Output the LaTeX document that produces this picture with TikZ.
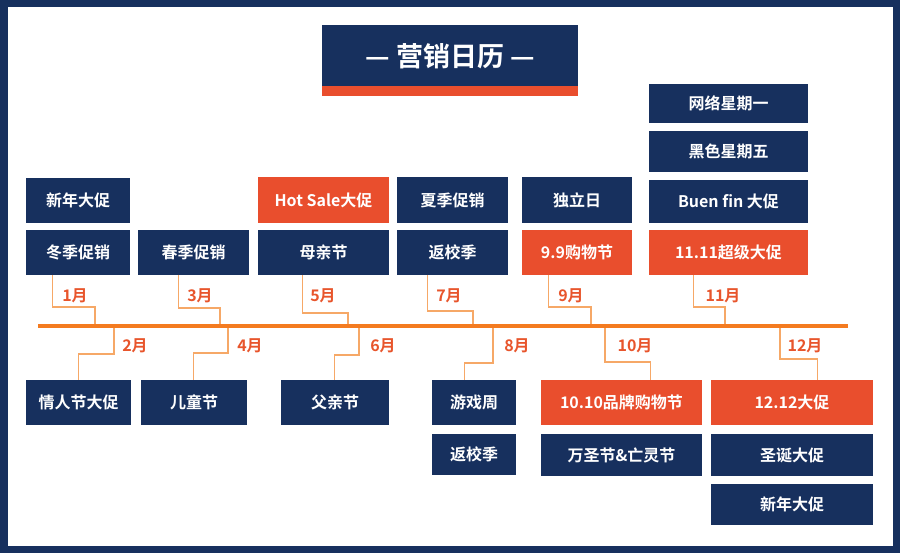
\documentclass[tikz,border=0pt]{standalone}
\usepackage{fontspec}
\setmainfont{Noto Sans CJK SC}[BoldFont={* Bold}]
\definecolor{navy}{HTML}{17305E}
\definecolor{org}{HTML}{E94E2D}
\definecolor{tl}{HTML}{F47B20}
\definecolor{cn}{HTML}{F6A867}
\definecolor{lab}{HTML}{E8552C}
\newcommand\bx[7][navy]{\node[box,fill=#1,minimum width={#5-#3},minimum height={#6-#4}] (#2) at ({(#3+#5)/2},{(#4+#6)/2}) {#7};}
\begin{document}
\begin{tikzpicture}[x=1pt,y=-1pt,
 box/.style={inner sep=0pt,text=white,font=\bfseries\fontsize{16}{18}\selectfont},
 conn/.style={cn,line width=1.3pt},
 ml/.style={text=lab,font=\bfseries\fontsize{16}{18}\selectfont,anchor=center}]
\useasboundingbox (0,0) rectangle (900,553);
\fill[white] (0,0) rectangle (900,553);
\draw[navy,line width=7pt] (4,4) rectangle (896,549);
% title
\fill[org] (322,84) rectangle (578,96);
\node[box,fill=navy,minimum width=256pt,minimum height=61pt,font=\bfseries\fontsize{27}{30}\selectfont] (title) at (450,56) {— 营销日历 —};
% timeline
\coordinate (L) at (38,326); \coordinate (R) at (848,326);
\draw[tl,line width=4pt] (L) -- (R);
% top boxes
\bx{a1}{26}{178}{130}{223}{新年大促}
\bx{a2}{26}{230}{130}{275}{冬季促销}
\bx{b1}{138}{230}{249}{275}{春季促销}
\bx[org]{c1}{258}{177}{389}{223}{Hot Sale大促}
\bx{c2}{258}{230}{389}{275}{母亲节}
\bx{d1}{397}{177}{508}{223}{夏季促销}
\bx{d2}{397}{230}{508}{275}{返校季}
\bx{e1}{522}{177}{632}{223}{独立日}
\bx[org]{e2}{522}{230}{632}{275}{9.9购物节}
\bx{f1}{649}{84}{808}{123}{网络星期一}
\bx{f2}{649}{131}{808}{172}{黑色星期五}
\bx{f3}{649}{180}{808}{223}{Buen fin 大促}
\bx[org]{f4}{649}{230}{808}{275}{11.11超级大促}
% bottom boxes
\bx{g1}{26}{380}{131}{425}{情人节大促}
\bx{h1}{141}{380}{247}{425}{儿童节}
\bx{i1}{281}{380}{389}{425}{父亲节}
\bx{j1}{432}{380}{516}{425}{游戏周}
\bx{j2}{432}{434}{516}{475}{返校季}
\bx[org]{k1}{541}{380}{702}{425}{10.10品牌购物节}
\bx{k2}{541}{434}{702}{476}{万圣节\&亡灵节}
\bx[org]{l1}{711}{380}{873}{425}{12.12大促}
\bx{l2}{711}{434}{873}{476}{圣诞大促}
\bx{l3}{711}{484}{873}{525}{新年大促}
% top connectors
\draw[conn] ([xshift=27pt]a2.south west) |- (95,307) -- (95,324);
\draw[conn] ([xshift=41pt]b1.south west) |- (220,308) -- (220,324);
\draw[conn] ([xshift=45pt]c2.south west) |- (348,313) -- (348,324);
\draw[conn] ([xshift=31pt]d2.south west) |- (473,311) -- (473,324);
\draw[conn] ([xshift=27pt]e2.south west) |- (591,307) -- (591,324);
\draw[conn] ([xshift=45pt]f4.south west) |- (725,307) -- (725,324);
\node[ml] at (75,296) {1月};
\node[ml] at (200,296) {3月};
\node[ml] at (323,296) {5月};
\node[ml] at (449,296) {7月};
\node[ml] at (571,296) {9月};
\node[ml] at (723,296) {11月};
% bottom connectors
\draw[conn] ([xshift=53pt]g1.north west) |- (114,354) -- (114,328);
\draw[conn] ([xshift=53pt]h1.north west) |- (228,353) -- (228,328);
\draw[conn] ([xshift=54pt]i1.north west) |- (359,355) -- (359,328);
\draw[conn] ([xshift=33pt]j1.north west) |- (493,363) -- (493,328);
\draw[conn] ([xshift=110pt]k1.north west) |- (605,362) -- (605,328);
\draw[conn] ([xshift=107pt]l1.north west) |- (780,359) -- (780,328);
\node[ml] at (135,346) {2月};
\node[ml] at (250,346) {4月};
\node[ml] at (383,346) {6月};
\node[ml] at (517,346) {8月};
\node[ml] at (635,346) {10月};
\node[ml] at (805,346) {12月};
\end{tikzpicture}
\end{document}
